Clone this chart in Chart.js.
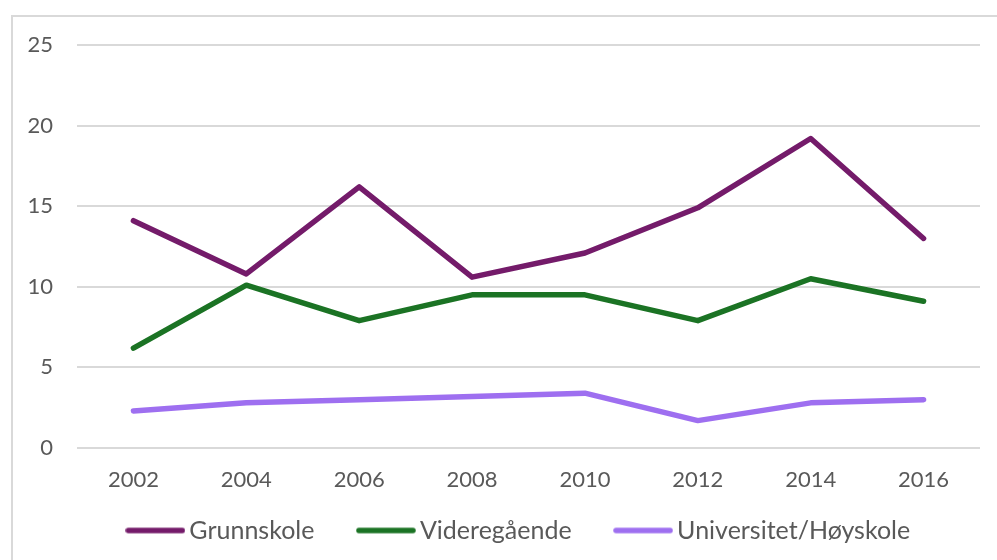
<!DOCTYPE html>
<html>
<head>
<meta charset="utf-8">
<script src="https://cdn.jsdelivr.net/npm/chart.js@4/dist/chart.umd.min.js"></script>
<style>
  html, body { margin: 0; padding: 0; background: #ffffff; }
  #wrap { position: relative; width: 997px; height: 560px; overflow: hidden; }
  #frame { position: absolute; left: 11px; top: 15px; width: 1000px; height: 600px;
           border-left: 2px solid #d9d9d9; border-top: 2px solid #d9d9d9; }
  canvas { position: absolute; left: 0; top: 0; }
</style>
</head>
<body>
<div id="wrap">
  <div id="frame"></div>
  <canvas id="c" width="997" height="560"></canvas>
</div>
<script>
const years = ['2002', '2004', '2006', '2008', '2010', '2012', '2014', '2016'];
const grunnskole = [14.1, 10.8, 16.2, 10.6, 12.1, 14.9, 19.2, 13.0];
const videregaende = [6.2, 10.1, 7.9, 9.5, 9.5, 7.9, 10.5, 9.1];
const universitet = [2.3, 2.8, 3.0, 3.2, 3.4, 1.7, 2.8, 3.0];
const seriesNames = ['Grunnskole', 'Videregående', 'Universitet/Høyskole'];
const seriesColors = ['#741b6a', '#1b7324', '#9e6ff0'];
const yMin = 0, yMax = 25, yStep = 5;

const FONT = 'Lato, "DejaVu Sans", sans-serif';
const TEXT = '#595959';
const LINE_W = 5.5;

// legend sample: a short thick line with round caps
function legendSample(color) {
  const cv = document.createElement('canvas');
  cv.width = 60; cv.height = 8;
  const g = cv.getContext('2d');
  g.strokeStyle = color; g.lineWidth = LINE_W; g.lineCap = 'round';
  g.beginPath(); g.moveTo(3, 4); g.lineTo(57, 4); g.stroke();
  return cv;
}

function ds(label, data, color) {
  return {
    label, data,
    borderColor: color, backgroundColor: color,
    borderWidth: LINE_W, borderCapStyle: 'round', borderJoinStyle: 'round',
    pointRadius: 0, pointHoverRadius: 0, tension: 0, fill: false,
    pointStyle: legendSample(color)
  };
}

const legendAdjust = {
  id: 'legendAdjust',
  beforeLayout(chart) {
    const lg = chart.legend;
    if (lg && !lg._fitWrapped) {
      const orig = lg.fit;
      lg.fit = function () { orig.call(this); this.height = 72; };
      lg._fitWrapped = true;
    }
  },
  afterLayout(chart) {
    const lg = chart.legend;
    lg.left += 32; lg.right += 32;
    lg.top -= 20; lg.height += 20;
  }
};

new Chart(document.getElementById('c'), {
  type: 'line',
  data: {
    labels: years,
    datasets: seriesNames.map((n, i) => ds(n, [grunnskole, videregaende, universitet][i], seriesColors[i]))
  },
  plugins: [legendAdjust],
  options: {
    responsive: false,
    animation: false,
    devicePixelRatio: 1,
    layout: { padding: { left: 0, right: 17, top: 45, bottom: 0 } },
    plugins: {
      tooltip: { enabled: false },
      legend: {
        position: 'bottom',
        labels: {
          usePointStyle: true,
          pointStyleWidth: 43,
          padding: 50,
          color: TEXT,
          font: { family: FONT, size: 25 }
        }
      }
    },
    scales: {
      x: {
        offset: true,
        grid: { display: false },
        border: { display: false },
        ticks: { color: TEXT, font: { family: FONT, size: 22 }, padding: 11, maxRotation: 0 },
        afterFit(scale) { scale.height = 40; }
      },
      y: {
        min: yMin, max: yMax,
        grid: { color: '#d9d9d9', lineWidth: 2, drawTicks: false },
        border: { display: false },
        ticks: { stepSize: yStep, color: TEXT, font: { family: FONT, size: 22 }, padding: 24 },
        afterFit(scale) { scale.width = 77; }
      }
    }
  }
});
</script>
</body>
</html>
